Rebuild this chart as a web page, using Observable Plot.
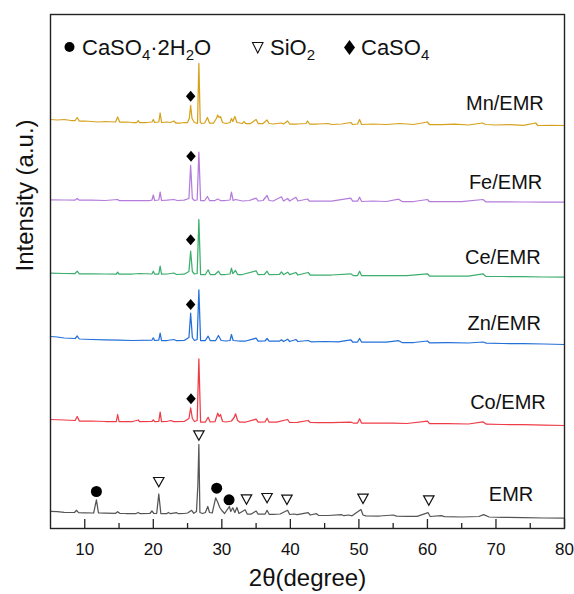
<!DOCTYPE html>
<html>
<head>
<meta charset="utf-8">
<script src="https://cdn.jsdelivr.net/npm/d3@7"></script>
<script src="https://cdn.jsdelivr.net/npm/@observablehq/plot@0.6"></script>
<style>
  html, body { margin: 0; padding: 0; background: #fff; }
  #chart { width: 574px; height: 594px; }
  svg { font-family: "Liberation Sans", Arial, sans-serif; }
</style>
</head>
<body>
<div id="chart"></div>
<script>
// ---- data: [2θ, stacked intensity (a.u.)] ----
const mnEMR = [[5,409],[6,408.5],[7,409],[8,408],[8.6,408],[8.9,411],[9.2,407.5],[10,407.5],[11,407],[12,406.5],[13,407],[14.5,406.5],[14.8,411.5],[15.1,406.5],[16,406.5],[17,406],[17.6,406],[17.8,408],[18,406],[19,406],[19.8,406.5],[20,409],[20.2,406],[20.8,406.5],[21,415.5],[21.2,406],[22,406.5],[22.5,406],[23,407.5],[23.3,405.5],[24,405.5],[24.5,406],[25,406],[25.25,410],[25.45,423],[25.65,410],[26,406],[26.45,405],[26.65,465],[26.85,406],[27.1,405],[27.5,405.5],[27.9,411],[28.2,405.5],[28.8,405.5],[29.2,410],[29.4,413.5],[29.6,411],[29.8,412],[30.1,406],[30.6,405],[31.2,406],[31.4,410],[31.6,407],[31.9,412],[32.2,406],[33,405],[33.2,407],[33.5,405],[34.2,405],[35,409],[35.3,405],[36,405],[36.6,408.5],[36.9,405],[37.5,404.5],[38.7,405.5],[39,404.5],[39.6,407.5],[39.9,404.5],[41,404.5],[42.3,405],[42.5,407.5],[42.8,404.5],[44,404.5],[45.5,405],[46,404],[47.5,404.5],[48.8,406],[49.1,404],[49.8,404.5],[50.1,409],[50.4,404],[52,404.5],[54,404],[56,405],[58,404],[60,406.5],[60.3,404],[62,404],[64,404.3],[66,403.5],[68,405.5],[68.5,404],[70,403.5],[72,403.8],[74,403.2],[75.8,405.5],[76.1,403],[78,403.2],[80,403]];
const feEMR = [[5,328.7],[7,328.5],[8.6,328.5],[8.9,330],[9.2,328.3],[11,328.3],[13,328],[14.8,329],[15,328],[17,328],[19.5,328],[19.8,328.3],[20,333.5],[20.2,328],[20.8,328.5],[21,336.3],[21.2,328],[22,328.3],[23,329],[23.5,328],[24.5,328.3],[25.2,330],[25.45,363],[25.7,330],[26,328],[26.4,328.5],[26.65,376.3],[26.9,328],[27.5,328],[27.9,332],[28.2,328],[29,328],[29.4,329.5],[29.8,328],[30.5,328],[31.2,328.5],[31.4,336.3],[31.65,328],[32,329],[33,327.5],[34,328],[35,330.3],[35.3,327.5],[36,328],[36.6,333],[36.9,328],[37.5,327.5],[38.7,331.7],[39,327.5],[39.6,330],[39.9,327.5],[40.8,331.3],[41.1,327.5],[42.5,329.5],[42.8,327.3],[44,327.5],[46,327.3],[48.8,330.3],[49.1,327.3],[49.8,327.3],[50.1,331.3],[50.4,327],[52,327.5],[54,327],[55.8,329.3],[56.3,327],[58,327],[60,329],[60.3,326.8],[62,327],[65,326.8],[68.1,329],[68.5,326.7],[71,326.7],[74,326.5],[77,326.5],[80,326.3]];
const ceEMR = [[5,255.3],[7,255],[8.6,255],[8.9,257.3],[9.2,254.7],[11,254.7],[13,254.5],[14.6,254.5],[14.8,256.3],[15,254.5],[17,254.5],[18,255],[19.8,254.5],[20,257.3],[20.2,254.5],[20.8,254.5],[21,262.3],[21.2,254.3],[22,254.5],[23,255.5],[23.4,254],[24.5,254.3],[25.2,257],[25.45,277.3],[25.7,257],[26,254.5],[26.4,255],[26.65,309],[26.9,254],[27.6,254],[28,258.7],[28.3,254],[29,254],[29.5,257.3],[29.8,254],[30.5,254],[31.2,254.5],[31.4,260.3],[31.6,255],[32,258],[32.3,254],[33,254],[35,257.7],[35.3,253.8],[36.2,254],[36.6,257.3],[36.9,253.8],[38.4,254],[38.7,256.7],[39,253.8],[39.6,256.3],[39.9,253.8],[40.8,256],[41.1,253.5],[42.6,256],[42.9,253.5],[44,253.5],[46,253.5],[48.8,254.7],[49.2,253],[49.8,253],[50.1,257.3],[50.4,252.8],[52,253],[55,252.8],[57,252.8],[60,254.7],[60.3,252.5],[63,252.5],[66,252.3],[68.1,254.7],[68.5,252.2],[71,252],[74,251.8],[77,251.5],[80,251.3]];
const znEMR = [[5,192],[6,191.5],[7,190.5],[8.6,190],[8.9,192.5],[9.2,189.5],[11,189],[13,188.7],[15,188.3],[17,188],[19.8,188.3],[20,190.7],[20.2,188],[20.8,188.3],[21,195.3],[21.2,188],[22,188],[23,189],[23.4,187.8],[24.5,188],[25.2,191],[25.45,215.3],[25.7,191],[26,188],[26.4,189],[26.65,238.7],[26.9,188],[27.6,188],[28,192.3],[28.3,188],[29.1,188],[29.5,193],[29.9,188],[30.6,187.5],[31.2,188],[31.4,194],[31.65,188],[32.5,187.5],[33.5,187.5],[35,190.3],[35.3,187.3],[36.3,187.5],[36.6,190],[36.9,187.3],[38.4,187.3],[38.7,188.7],[39,187],[39.6,189.3],[39.9,187],[40.8,189],[41.1,187],[42.6,188],[43,186.7],[45,187],[47,186.7],[48.8,188.7],[49.1,186.5],[49.8,186.5],[50.1,190],[50.4,186.3],[52,186.5],[54,186.3],[55.8,187.8],[56.3,186],[58,186],[60,187.5],[60.3,185.7],[63,185.8],[66,185.5],[68.1,186.5],[68.6,185.3],[71,185],[74,184.8],[77,184.5],[80,184]];
const coEMR = [[5,109],[7,108.5],[8.6,108],[8.9,112],[9.2,107.5],[11,107.5],[13,107],[14.6,107],[14.8,114],[15,107],[17,107],[17.8,108.5],[18,106.8],[19.8,107],[20,108.7],[20.2,106.8],[20.8,107],[21,116.3],[21.2,106.8],[22,107],[22.5,108],[23,106.8],[24.5,107],[25.2,110],[25.45,120.7],[25.7,110],[26,107],[26.4,108],[26.65,169.7],[26.9,106.5],[27.6,106.5],[28,111.3],[28.3,106.5],[29,106.8],[29.4,115.3],[29.6,112],[29.8,114],[30.1,107],[30.6,106.5],[31.4,107.5],[31.8,111],[32,114.7],[32.3,108],[32.6,106.5],[33.5,106.5],[35,109.3],[35.3,106.3],[36.3,106.5],[36.6,110.3],[36.9,106.3],[38,106.3],[39.6,109],[39.9,106],[41,106.2],[42.6,108],[42.9,106],[44,105.8],[46,105.8],[48.8,106.3],[49.2,105.5],[49.8,105.5],[50.1,109.7],[50.4,105.3],[52,105.5],[55,105.3],[57,105],[60,107.3],[60.3,104.8],[63,104.8],[66,104.5],[68.1,106.7],[68.6,104.3],[71,104],[74,103.8],[77,103.3],[80,103]];
const emr = [[5,17.2],[6,16.8],[7,16.2],[8.5,16],[8.8,18.2],[9.1,15.8],[10,15.7],[11.3,15.5],[11.7,28.7],[12.0,15.5],[13,15.3],[14.5,15.2],[14.8,16.8],[15.1,15.2],[16,15],[17.5,15],[17.8,16],[18.1,14.8],[19.5,15],[19.8,17.5],[20.1,15],[20.5,15.2],[20.8,34.5],[21.1,15],[22,15],[22.2,16],[22.5,14.8],[23.4,15.8],[23.7,14.8],[24.5,15],[25,15.5],[25.6,18.2],[25.9,15.2],[26.3,17],[26.5,43],[26.65,84],[26.8,16],[27.2,15],[27.6,16],[27.95,22],[28.2,16],[28.6,15.5],[29.1,30.7],[29.4,26.3],[29.7,21],[30.0,18],[30.4,15],[31.1,22],[31.3,17],[31.6,20.7],[31.9,16],[32.2,21],[32.5,15],[33.4,18.7],[33.7,14.5],[34.3,14.5],[35,17.5],[35.3,14.3],[36.3,14.3],[36.6,18.2],[36.9,14.2],[37.5,14.2],[38.5,14.5],[39.6,18.2],[39.9,14],[40.5,14.5],[41,13.8],[42.6,15.8],[42.9,13.5],[43.8,14.8],[44.1,13.2],[45.5,13],[47.5,13.8],[47.8,12.8],[48.5,13.5],[49,12.7],[50.3,19],[50.6,13.5],[51,12.6],[53,12.5],[55,13.5],[55.5,12.3],[57,12.2],[58.5,12.2],[60.1,15.8],[60.4,12],[62,12.8],[62.5,11.8],[65,11.5],[67.5,12],[68.2,13.8],[69,11.5],[71,11.2],[74,11],[77,10.5],[80,10.3]];

const seriesNames = ["Mn/EMR", "Fe/EMR", "Ce/EMR", "Zn/EMR", "Co/EMR", "EMR"];
const seriesData = [mnEMR, feEMR, ceEMR, znEMR, coEMR, emr];
const seriesColors = ["#D6A21E", "#B47CDB", "#3DAE6E", "#2370D8", "#EF3D48", "#555555"];

// phase markers [2θ, intensity]
const caso4Marks = [[25.45, 432.3], [25.5, 372.3], [25.45, 288.7], [25.45, 224], [25.5, 129.7]];
const gypsumMarks = [[11.7, 37], [29.25, 40.3], [31.05, 28.7]];
const sio2Marks = [[20.8, 46.3], [26.65, 93], [33.6, 29], [36.6, 30.3], [39.5, 28.7], [50.6, 29.7], [60.2, 28]];

const xTicks = [10, 20, 30, 40, 50, 60, 70, 80];
const xMinorTicks = [15, 25, 35, 45, 55, 65, 75];

// label anchor positions (layout)
const labelPos = [[71.3, 425.3], [71.4, 346.3], [71.0, 271.3], [71.2, 205.3], [71.75, 126.3], [72.2, 33.5]];

const lines = seriesData.map((s, i) => ({s, color: seriesColors[i]}));
const labels = seriesNames.map((name, i) => ({name, x: labelPos[i][0], y: labelPos[i][1]}));

const diamondSym = {draw(ctx, size) { const r = Math.sqrt(size / Math.PI); ctx.moveTo(0, -r * 1.1); ctx.lineTo(r * 0.95, 0); ctx.lineTo(0, r * 1.1); ctx.lineTo(-r * 0.95, 0); ctx.closePath(); }};
const triSym = {draw(ctx, size) { const r = Math.sqrt(size / Math.PI); ctx.moveTo(-r, -r * 0.9); ctx.lineTo(r, -r * 0.9); ctx.lineTo(0, r * 0.9); ctx.closePath(); }};

const chart = Plot.plot({
  width: 574,
  height: 594,
  marginLeft: 50,
  marginRight: 10,
  marginTop: 14,
  marginBottom: 66,
  x: {domain: [5, 80]},
  y: {domain: [0, 514], axis: null},
  style: {fontFamily: '"Liberation Sans", Arial, sans-serif', color: "#111", background: "#fff"},
  marks: [
    ...lines.map(l => Plot.line(l.s, {x: d => d[0], y: d => d[1], stroke: l.color, strokeWidth: 1.25})),
    Plot.ruleX(xTicks, {y1: 0, y2: 9, stroke: "#222", strokeWidth: 1.3}),
    Plot.ruleX(xMinorTicks, {y1: 0, y2: 5, stroke: "#222", strokeWidth: 1.3}),
    Plot.frame({stroke: "#222", strokeWidth: 1.4}),
    Plot.axisX({ticks: xTicks, tickSize: 0, tickPadding: 14, fontSize: 17, label: null}),
    Plot.dot(caso4Marks, {x: d => d[0], y: d => d[1], symbol: diamondSym, r: 5, fill: "#000", stroke: "none"}),
    Plot.dot(gypsumMarks, {x: d => d[0], y: d => d[1], r: 5.5, fill: "#000", stroke: "none"}),
    Plot.dot(sio2Marks, {x: d => d[0], y: d => d[1], symbol: triSym, r: 5.2, fill: "#fff", stroke: "#111", strokeWidth: 1.2}),
    Plot.text(labels, {x: "x", y: "y", text: "name", fontSize: 20, fill: "#111", textAnchor: "middle"}),
    Plot.text(["2θ(degree)"], {text: d => d, frameAnchor: "bottom", dy: 57, fontSize: 24, fill: "#111"}),
    Plot.text(["Intensity (a.u.)"], {text: d => d, frameAnchor: "left", dx: -25, rotate: -90, fontSize: 24, fill: "#111"})
  ]
});

// legend (inside the frame, top-left)
const svg = d3.select(chart);
const lg = svg.append("g").attr("font-family", '"Liberation Sans", Arial, sans-serif').attr("fill", "#111").attr("text-anchor", "start");
lg.append("circle").attr("cx", 69.5).attr("cy", 47).attr("r", 5).attr("fill", "#000");
function chem(x, parts) {
  const t = lg.append("text").attr("x", x).attr("y", 55).attr("font-size", 22).attr("text-anchor", "start");
  let sub = false;
  parts.forEach(p => {
    const isSub = !!p.sub;
    const ts = t.append("tspan").text(p.t);
    if (isSub) ts.attr("font-size", 15);
    if (isSub && !sub) ts.attr("dy", 5);
    else if (!isSub && sub) ts.attr("dy", -5);
    sub = isSub;
  });
}
chem(82, [{t: "CaSO"}, {t: "4", sub: true}, {t: "·2H"}, {t: "2", sub: true}, {t: "O"}]);
lg.append("path").attr("d", "M252.5,42.5 L263,42.5 L257.75,53 Z").attr("fill", "none").attr("stroke", "#111").attr("stroke-width", 1.1);
chem(270, [{t: "SiO"}, {t: "2", sub: true}]);
lg.append("path").attr("d", "M349.5,40 L355,47.5 L349.5,55 L344,47.5 Z").attr("fill", "#000");
chem(361, [{t: "CaSO"}, {t: "4", sub: true}]);

document.getElementById("chart").append(chart);
</script>
</body>
</html>
